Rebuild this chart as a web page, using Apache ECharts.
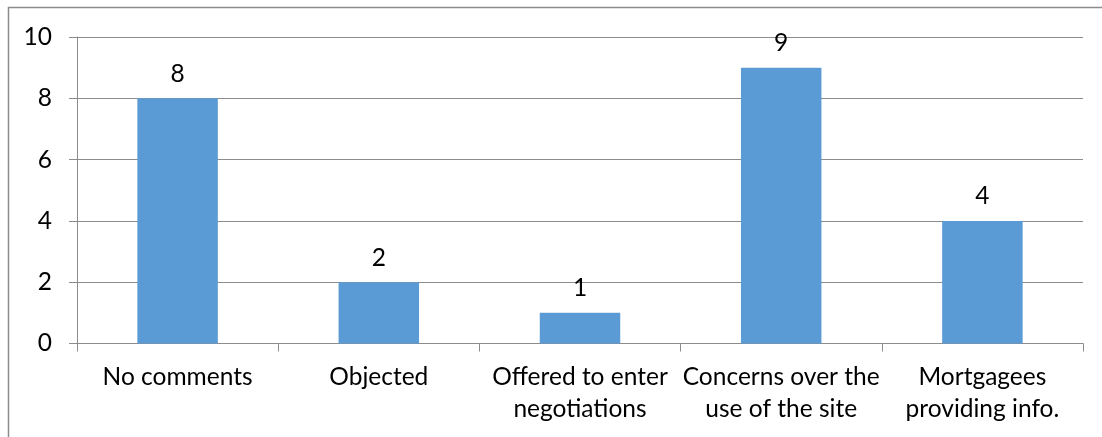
<!DOCTYPE html>
<html>
<head>
<meta charset="utf-8">
<script src="https://cdn.jsdelivr.net/npm/echarts@6/dist/echarts.min.js"></script>
<style>
  html, body { margin: 0; padding: 0; background: #fff; }
  #chart { width: 1102px; height: 437px; }
</style>
</head>
<body>
<div id="chart"></div>
<script>
// Responses received, by type
const categories = [
  'No comments',
  'Objected',
  'Offered to enter\nnegotiations',
  'Concerns over the\nuse of the site',
  'Mortgagees\nproviding info.'
];
const counts = [8, 2, 1, 9, 4];
const yTicks = { min: 0, max: 10, interval: 2 };

const font = 'Lato, "Open Sans", sans-serif';
const chart = echarts.init(document.getElementById('chart'), null, { renderer: 'canvas' });

chart.setOption({
  animation: false,
  backgroundColor: '#ffffff',
  graphic: [{
    type: 'rect',
    shape: { x: 8.5, y: 7.5, width: 1200, height: 600 },
    style: { fill: 'none', stroke: '#8c8c8c', lineWidth: 1.5 },
    silent: true,
    z: -1
  }],
  grid: { left: 77, right: 19, top: 37, bottom: 93.5, containLabel: false },
  xAxis: {
    type: 'category',
    data: categories,
    axisLine: { show: true, lineStyle: { color: '#8c8c8c', width: 1 } },
    axisTick: { show: true, length: 8, alignWithLabel: false, lineStyle: { color: '#8c8c8c' } },
    axisLabel: {
      interval: 0,
      color: '#000',
      fontFamily: font,
      fontSize: 24.5,
      lineHeight: 32,
      margin: 18
    }
  },
  yAxis: {
    type: 'value',
    min: yTicks.min,
    max: yTicks.max,
    interval: yTicks.interval,
    axisLine: { show: true, lineStyle: { color: '#8c8c8c', width: 1 } },
    axisTick: { show: true, length: 8, lineStyle: { color: '#8c8c8c' } },
    splitLine: { show: true, lineStyle: { color: '#8c8c8c', width: 1 } },
    axisLabel: {
      color: '#000',
      fontFamily: font,
      fontSize: 24.5,
      margin: 25
    }
  },
  series: [{
    type: 'bar',
    data: counts,
    barWidth: '40%',
    itemStyle: { color: '#5b9bd5' },
    label: {
      show: true,
      position: 'top',
      distance: 12,
      color: '#000',
      fontFamily: font,
      fontSize: 24.5
    }
  }]
});
</script>
</body>
</html>
